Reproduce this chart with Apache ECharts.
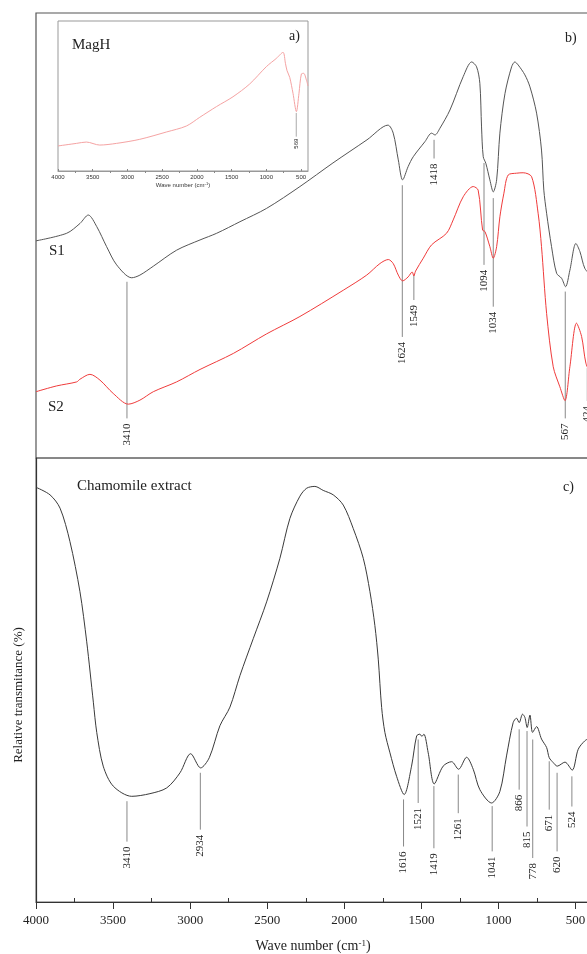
<!DOCTYPE html>
<html>
<head>
<meta charset="utf-8">
<script src="https://cdn.jsdelivr.net/npm/echarts@6/dist/echarts.min.js"></script>
<style>
  html, body { margin: 0; padding: 0; background: #fff; }
  #chart { width: 587px; height: 954px; }
</style>
</head>
<body>
<div id="chart"></div>
<script>
// ---------- DATA ----------
const xTickLabels = [4000, 3500, 3000, 2500, 2000, 1500, 1000, 500];
const xMinorTicks = [3750, 3250, 2750, 2250, 1750, 1250, 750];

// Panel b) S1 (grey)
const s1Wn = [4000, 3801, 3715, 3661, 3606, 3542, 3477, 3379, 3326, 3239, 3088, 2936, 2828, 2677, 2504, 2288, 2074, 1853, 1717, 1683, 1650, 1622, 1586, 1553, 1477, 1434, 1412, 1380, 1315, 1229, 1174, 1142, 1121, 1110, 1099, 1082, 1056, 1034, 1012, 991, 958, 915, 894, 872, 829, 796, 753, 721, 706, 688, 656, 623, 591, 565, 537, 498, 472, 440, 401];
const s1T  = [48.8, 50.5, 52.7, 54.6, 52.0, 47.5, 43.4, 40.5, 41.1, 43.1, 46.7, 49.0, 50.5, 53.1, 56.1, 61.0, 66.3, 71.5, 74.8, 73.0, 67.0, 62.5, 65.5, 67.7, 71.1, 73.0, 72.6, 74.1, 78.2, 85.7, 89.0, 87.9, 84.2, 74.4, 67.7, 66.2, 62.5, 59.8, 62.5, 73.0, 81.9, 87.9, 89.0, 88.3, 86.1, 83.4, 77.5, 69.2, 60.2, 55.0, 47.5, 41.5, 40.4, 38.5, 42.2, 48.2, 46.4, 42.6, 41.1];

// Panel b) S2 (red)
const s2Wn = [4000, 3866, 3736, 3715, 3650, 3585, 3499, 3401, 3326, 3239, 3088, 2936, 2720, 2504, 2288, 2007, 1855, 1769, 1715, 1683, 1650, 1622, 1586, 1560, 1549, 1538, 1488, 1434, 1337, 1294, 1229, 1164, 1132, 1103, 1088, 1056, 1034, 1012, 991, 965, 937, 883, 840, 785, 743, 721, 688, 645, 602, 569, 537, 494, 461, 433, 401];
const s2T  = [14.9, 16.2, 17.1, 17.7, 18.8, 17.5, 14.5, 12.1, 13.0, 14.9, 17.1, 19.9, 23.5, 27.9, 31.8, 37.7, 41.1, 43.7, 44.6, 43.7, 41.1, 39.8, 40.7, 41.8, 40.9, 42.0, 44.9, 47.9, 50.5, 53.5, 58.7, 61.0, 60.2, 51.2, 50.9, 47.5, 44.9, 47.5, 54.2, 59.5, 63.6, 64.0, 64.1, 63.2, 55.0, 47.5, 32.5, 20.5, 16.0, 12.9, 20.5, 30.3, 27.3, 21.3, 18.7];

// Inset a) MagH
const magWn = [4000, 3735, 3591, 3400, 3159, 2824, 2439, 2151, 1959, 1719, 1480, 1240, 999, 855, 760, 725, 702, 663, 616, 567, 530, 495, 462, 423, 400];
const magT  = [16.7, 18.4, 19.3, 17.3, 18.4, 21.1, 26.0, 30.0, 35.8, 42.9, 49.5, 58.0, 69.6, 75.1, 79.1, 71.8, 66.9, 62.4, 51.8, 39.6, 51.8, 64.7, 65.1, 60.7, 56.7];

// Panel c) Chamomile extract
const chamWn = [4000, 3909, 3844, 3780, 3715, 3671, 3628, 3606, 3564, 3499, 3379, 3261, 3152, 3066, 2997, 2932, 2876, 2807, 2742, 2677, 2591, 2504, 2418, 2353, 2288, 2244, 2191, 2137, 2072, 2007, 1942, 1877, 1834, 1802, 1780, 1758, 1737, 1704, 1661, 1612, 1564, 1531, 1510, 1497, 1484, 1456, 1417, 1359, 1304, 1259, 1207, 1164, 1121, 1045, 991, 948, 905, 883, 866, 844, 829, 814, 796, 779, 753, 721, 688, 671, 645, 619, 569, 522, 483, 440, 401];
const chamT  = [93.4, 91.7, 88.7, 81.2, 69.9, 58.6, 45.0, 38.2, 30.6, 26.1, 23.8, 24.4, 25.7, 29.1, 33.4, 30.2, 32.5, 39.7, 43.9, 51.0, 59.3, 67.6, 77.4, 86.4, 91.4, 93.2, 93.6, 92.7, 91.7, 89.4, 84.1, 77.4, 69.9, 62.3, 54.7, 43.8, 38.2, 33.6, 28.3, 24.2, 30.6, 37.4, 37.8, 37.3, 37.8, 33.6, 26.6, 30.6, 31.6, 29.9, 32.6, 29.9, 25.3, 22.3, 24.9, 32.9, 40.4, 41.4, 40.4, 42.3, 41.6, 39.3, 42.1, 38.2, 39.5, 36.7, 34.8, 32.5, 31.4, 30.6, 31.5, 29.7, 34.4, 36.3, 37.1];

// Peak annotations: wavenumber, line start, line end (in each panel's value units)
const topPeakWn    = [3410, 1624, 1549, 1418, 1094, 1034, 567, 424];
const topPeakStart = [39.6, 61.3, 41.1, 71.5, 66.3, 58.4, 37.4, 20.2];
const topPeakEnd   = [8.9, 27.2, 35.5, 67.3, 43.4, 34.0, 8.9, 12.8];

const botPeakWn    = [3410, 2934, 1616, 1521, 1419, 1261, 1041, 866, 815, 778, 671, 620, 524];
const botPeakStart = [22.7, 29.1, 23.1, 36.6, 26.1, 28.7, 21.6, 38.9, 38.5, 36.6, 31.7, 29.1, 28.3];
const botPeakEnd   = [13.6, 16.3, 12.5, 22.3, 12.1, 20.0, 11.4, 25.3, 17.0, 9.9, 20.8, 11.4, 21.5];

const magPeakWn    = [569];
const magPeakStart = [38.7];
const magPeakEnd   = [22.9];

// ---------- BUILD ----------
const zip = (a, b) => a.map((v, i) => [v, b[i]]);
const annot = (w, s, e) => w.map((v, i) => [v, s[i], e[i]]);
const plain = v => String(v);

const SERIF = '"Liberation Serif", "Times New Roman", serif';
const SANS = '"Liberation Sans", Arial, sans-serif';

function annotRender(fontSize, family, gap, lineColor) {
  return function (params, api) {
    const wn = api.value(0);
    const p1 = api.coord([wn, api.value(1)]);
    const p2 = api.coord([wn, api.value(2)]);
    return {
      type: 'group',
      children: [
        { type: 'line', shape: { x1: p1[0], y1: p1[1], x2: p2[0], y2: p2[1] },
          style: { stroke: lineColor, lineWidth: 1 } },
        { type: 'text', x: p2[0], y: p2[1] + gap, rotation: Math.PI / 2,
          style: { text: String(wn), fill: '#222', fontSize: fontSize, fontFamily: family,
                   align: 'right', verticalAlign: 'middle' } }
      ]
    };
  };
}

const chart = echarts.init(document.getElementById('chart'), null, { renderer: 'canvas' });

const mainAxisBase = { type: 'value', min: 400, max: 4000, inverse: true, splitLine: { show: false } };

chart.setOption({
  animation: false,
  backgroundColor: '#fff',
  grid: [
    { left: 36, right: -4, top: 13, height: 445, outerBoundsMode: 'none', containLabel: false,
      show: true, borderColor: '#555', borderWidth: 1.2, backgroundColor: 'transparent' },
    { left: 36, right: -4, top: 458, height: 444, outerBoundsMode: 'none', containLabel: false,
      show: true, borderColor: '#666', borderWidth: 1, backgroundColor: 'transparent' },
    { left: 58, top: 21, width: 250, height: 150, outerBoundsMode: 'none', containLabel: false,
      show: true, borderColor: '#999', borderWidth: 1, backgroundColor: 'transparent' }
  ],
  xAxis: [
    Object.assign({}, mainAxisBase, { gridIndex: 0, show: false }),
    Object.assign({}, mainAxisBase, {
      gridIndex: 1,
      axisLine: { show: true, onZero: false, lineStyle: { color: '#333', width: 1.2 } },
      axisTick: { show: true, customValues: xTickLabels, length: 7, lineStyle: { color: '#333' } },
      axisLabel: { customValues: xTickLabels, formatter: plain, fontFamily: SERIF, fontSize: 13, color: '#222', margin: 12 }
    }),
    Object.assign({}, mainAxisBase, {
      gridIndex: 1,
      axisLine: { show: false },
      axisTick: { show: true, customValues: xMinorTicks, length: 4, lineStyle: { color: '#333' } },
      axisLabel: { show: false }
    }),
    Object.assign({}, mainAxisBase, {
      gridIndex: 2,
      axisLine: { show: true, onZero: false, lineStyle: { color: '#999', width: 1 } },
      axisTick: { show: true, inside: true, customValues: xTickLabels, length: 2, lineStyle: { color: '#888' } },
      axisLabel: { customValues: xTickLabels, formatter: plain, fontFamily: SANS, fontSize: 6, color: '#333', margin: 3 },
      name: '{n|Wave number (cm}{s|-1}{n|)}',
      nameLocation: 'middle',
      nameGap: 11,
      nameTextStyle: {
        rich: {
          n: { fontFamily: SANS, fontSize: 6, color: '#333' },
          s: { fontFamily: SANS, fontSize: 4, color: '#333', verticalAlign: 'top' }
        }
      }
    }),
    Object.assign({}, mainAxisBase, {
      gridIndex: 2,
      axisLine: { show: false },
      axisTick: { show: true, inside: true, customValues: xMinorTicks, length: 2, lineStyle: { color: '#888' } },
      axisLabel: { show: false }
    })
  ],
  yAxis: [
    { gridIndex: 0, type: 'value', min: 0, max: 100, show: false },
    { gridIndex: 1, type: 'value', min: 0, max: 100,
      axisLine: { show: true, lineStyle: { color: '#333', width: 1.2 } },
      axisTick: { show: false }, axisLabel: { show: false }, splitLine: { show: false } },
    { gridIndex: 2, type: 'value', min: 0, max: 100, show: false }
  ],
  series: [
    { name: 'S1', type: 'line', xAxisIndex: 0, yAxisIndex: 0, data: zip(s1Wn, s1T),
      showSymbol: false, smooth: 0.3, lineStyle: { color: '#555', width: 1 } },
    { name: 'S2', type: 'line', xAxisIndex: 0, yAxisIndex: 0, data: zip(s2Wn, s2T),
      showSymbol: false, smooth: 0.3, lineStyle: { color: '#ef3b3b', width: 1 } },
    { name: 'MagH', type: 'line', xAxisIndex: 3, yAxisIndex: 2, data: zip(magWn, magT),
      showSymbol: false, smooth: 0.3, lineStyle: { color: '#f5a3a3', width: 1 } },
    { name: 'Chamomile extract', type: 'line', xAxisIndex: 1, yAxisIndex: 1, data: zip(chamWn, chamT),
      showSymbol: false, smooth: 0.3, lineStyle: { color: '#3a3a3a', width: 1 } },
    { type: 'custom', xAxisIndex: 0, yAxisIndex: 0, data: annot(topPeakWn, topPeakStart, topPeakEnd),
      encode: { x: 0, y: [1, 2] }, clip: false, silent: true,
      renderItem: annotRender(11, SERIF, 5, '#888') },
    { type: 'custom', xAxisIndex: 1, yAxisIndex: 1, data: annot(botPeakWn, botPeakStart, botPeakEnd),
      encode: { x: 0, y: [1, 2] }, clip: false, silent: true,
      renderItem: annotRender(11, SERIF, 5, '#888') },
    { type: 'custom', xAxisIndex: 3, yAxisIndex: 2, data: annot(magPeakWn, magPeakStart, magPeakEnd),
      encode: { x: 0, y: [1, 2] }, clip: false, silent: true,
      renderItem: annotRender(6, SANS, 2, '#aaa') }
  ],
  graphic: [
    { type: 'text', x: 72, y: 45, style: { text: 'MagH', fontFamily: SERIF, fontSize: 15, fill: '#222', verticalAlign: 'middle' } },
    { type: 'text', x: 289, y: 36, style: { text: 'a)', fontFamily: SERIF, fontSize: 14, fill: '#222', verticalAlign: 'middle' } },
    { type: 'text', x: 565, y: 38, style: { text: 'b)', fontFamily: SERIF, fontSize: 14, fill: '#222', verticalAlign: 'middle' } },
    { type: 'text', x: 49, y: 251, style: { text: 'S1', fontFamily: SERIF, fontSize: 15, fill: '#222', verticalAlign: 'middle' } },
    { type: 'text', x: 48, y: 407, style: { text: 'S2', fontFamily: SERIF, fontSize: 15, fill: '#222', verticalAlign: 'middle' } },
    { type: 'text', x: 77, y: 486, style: { text: 'Chamomile extract', fontFamily: SERIF, fontSize: 15, fill: '#222', verticalAlign: 'middle' } },
    { type: 'text', x: 563, y: 487, style: { text: 'c)', fontFamily: SERIF, fontSize: 14, fill: '#222', verticalAlign: 'middle' } },
    { type: 'text', x: 19, y: 695, rotation: Math.PI / 2,
      style: { text: 'Relative transmitance (%)', fontFamily: SERIF, fontSize: 13, fill: '#222', align: 'center', verticalAlign: 'middle' } },
    { type: 'text', x: 313, y: 946,
      style: { text: '{n|Wave number (cm}{s|-1}{n|)}', align: 'center', verticalAlign: 'middle',
        rich: {
          n: { fontFamily: SERIF, fontSize: 14, fill: '#222' },
          s: { fontFamily: SERIF, fontSize: 9, fill: '#222', verticalAlign: 'top' }
        } } }
  ]
});
</script>
</body>
</html>
